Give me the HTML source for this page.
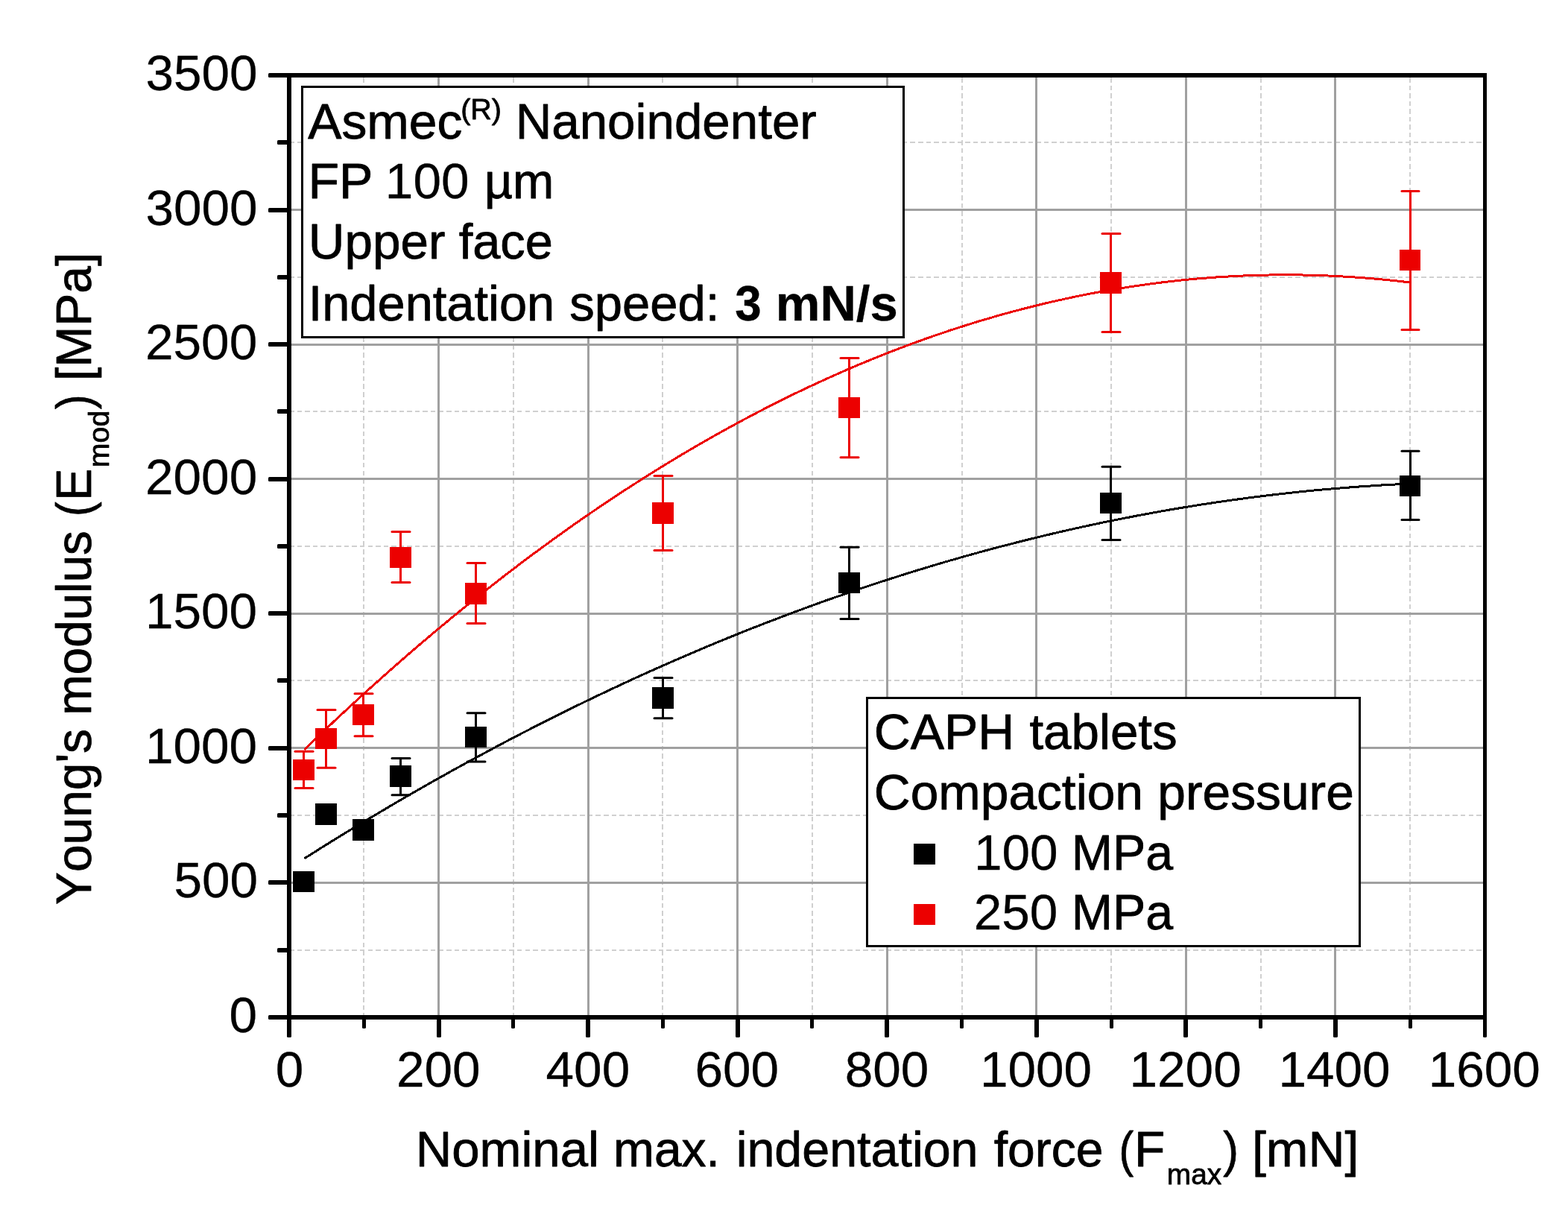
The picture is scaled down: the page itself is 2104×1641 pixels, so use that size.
<!DOCTYPE html>
<html lang="en"><head><meta charset="utf-8"><title>Young's modulus vs. nominal max. indentation force</title>
<style>
html,body{margin:0;padding:0;background:#fff;}
body{width:2104px;height:1641px;overflow:hidden;}
svg{display:block;}
</style></head>
<body>
<svg width="2104" height="1641" viewBox="0 0 2104 1641" font-family='"Liberation Sans", sans-serif'>
<rect x="0" y="0" width="2104" height="1641" fill="#ffffff"/>
<g fill="none" shape-rendering="crispEdges">
<line x1="488" y1="104" x2="488" y2="1362" stroke="#d0d0d0" stroke-width="2" stroke-dasharray="6.5 4.05"/>
<line x1="689" y1="104" x2="689" y2="1362" stroke="#d0d0d0" stroke-width="2" stroke-dasharray="6.5 4.05"/>
<line x1="889" y1="104" x2="889" y2="1362" stroke="#d0d0d0" stroke-width="2" stroke-dasharray="6.5 4.05"/>
<line x1="1090" y1="104" x2="1090" y2="1362" stroke="#d0d0d0" stroke-width="2" stroke-dasharray="6.5 4.05"/>
<line x1="1291" y1="104" x2="1291" y2="1362" stroke="#d0d0d0" stroke-width="2" stroke-dasharray="6.5 4.05"/>
<line x1="1491" y1="104" x2="1491" y2="1362" stroke="#d0d0d0" stroke-width="2" stroke-dasharray="6.5 4.05"/>
<line x1="1692" y1="104" x2="1692" y2="1362" stroke="#d0d0d0" stroke-width="2" stroke-dasharray="6.5 4.05"/>
<line x1="1892" y1="104" x2="1892" y2="1362" stroke="#d0d0d0" stroke-width="2" stroke-dasharray="6.5 4.05"/>
<line x1="391" y1="1275" x2="1990" y2="1275" stroke="#d0d0d0" stroke-width="2" stroke-dasharray="6.5 4.05" stroke-dashoffset="3"/>
<line x1="391" y1="1094" x2="1990" y2="1094" stroke="#d0d0d0" stroke-width="2" stroke-dasharray="6.5 4.05" stroke-dashoffset="3"/>
<line x1="391" y1="913" x2="1990" y2="913" stroke="#d0d0d0" stroke-width="2" stroke-dasharray="6.5 4.05" stroke-dashoffset="3"/>
<line x1="391" y1="733" x2="1990" y2="733" stroke="#d0d0d0" stroke-width="2" stroke-dasharray="6.5 4.05" stroke-dashoffset="3"/>
<line x1="391" y1="552" x2="1990" y2="552" stroke="#d0d0d0" stroke-width="2" stroke-dasharray="6.5 4.05" stroke-dashoffset="3"/>
<line x1="391" y1="372" x2="1990" y2="372" stroke="#d0d0d0" stroke-width="2" stroke-dasharray="6.5 4.05" stroke-dashoffset="3"/>
<line x1="391" y1="191" x2="1990" y2="191" stroke="#d0d0d0" stroke-width="2" stroke-dasharray="6.5 4.05" stroke-dashoffset="3"/>
<line x1="588.5" y1="104" x2="588.5" y2="1362" stroke="#a0a0a0" stroke-width="3"/>
<line x1="789.5" y1="104" x2="789.5" y2="1362" stroke="#a0a0a0" stroke-width="3"/>
<line x1="989.5" y1="104" x2="989.5" y2="1362" stroke="#a0a0a0" stroke-width="3"/>
<line x1="1190.5" y1="104" x2="1190.5" y2="1362" stroke="#a0a0a0" stroke-width="3"/>
<line x1="1390.5" y1="104" x2="1390.5" y2="1362" stroke="#a0a0a0" stroke-width="3"/>
<line x1="1591.5" y1="104" x2="1591.5" y2="1362" stroke="#a0a0a0" stroke-width="3"/>
<line x1="1791.5" y1="104" x2="1791.5" y2="1362" stroke="#a0a0a0" stroke-width="3"/>
<line x1="391" y1="1184.5" x2="1990" y2="1184.5" stroke="#a0a0a0" stroke-width="3"/>
<line x1="391" y1="1003.5" x2="1990" y2="1003.5" stroke="#a0a0a0" stroke-width="3"/>
<line x1="391" y1="823.5" x2="1990" y2="823.5" stroke="#a0a0a0" stroke-width="3"/>
<line x1="391" y1="642.5" x2="1990" y2="642.5" stroke="#a0a0a0" stroke-width="3"/>
<line x1="391" y1="462.5" x2="1990" y2="462.5" stroke="#a0a0a0" stroke-width="3"/>
<line x1="391" y1="281.5" x2="1990" y2="281.5" stroke="#a0a0a0" stroke-width="3"/>
</g>
<polyline points="408.3,1152.0 418.3,1145.7 428.2,1139.4 438.2,1133.2 448.1,1127.0 458.1,1120.9 468.0,1114.8 478.0,1108.8 488.0,1102.8 497.9,1096.8 507.9,1090.9 517.8,1085.0 527.8,1079.1 537.7,1073.3 547.7,1067.5 557.6,1061.8 567.6,1056.1 577.6,1050.4 587.5,1044.8 597.5,1039.3 607.4,1033.7 617.4,1028.2 627.3,1022.8 637.3,1017.3 647.3,1012.0 657.2,1006.6 667.2,1001.3 677.1,996.0 687.1,990.8 697.0,985.6 707.0,980.5 716.9,975.4 726.9,970.3 736.9,965.3 746.8,960.3 756.8,955.4 766.7,950.4 776.7,945.6 786.6,940.7 796.6,936.0 806.6,931.2 816.5,926.5 826.5,921.8 836.4,917.2 846.4,912.6 856.3,908.0 866.3,903.5 876.2,899.0 886.2,894.6 896.2,890.2 906.1,885.8 916.1,881.5 926.0,877.3 936.0,873.0 945.9,868.8 955.9,864.6 965.9,860.5 975.8,856.4 985.8,852.4 995.7,848.4 1005.7,844.4 1015.6,840.5 1025.6,836.6 1035.6,832.8 1045.5,829.0 1055.5,825.2 1065.4,821.5 1075.4,817.8 1085.3,814.1 1095.3,810.5 1105.2,806.9 1115.2,803.4 1125.2,799.9 1135.1,796.5 1145.1,793.0 1155.0,789.7 1165.0,786.3 1174.9,783.0 1184.9,779.8 1194.9,776.6 1204.8,773.4 1214.8,770.2 1224.7,767.1 1234.7,764.1 1244.6,761.1 1254.6,758.1 1264.5,755.1 1274.5,752.2 1284.5,749.4 1294.4,746.5 1304.4,743.8 1314.3,741.0 1324.3,738.3 1334.2,735.6 1344.2,733.0 1354.2,730.4 1364.1,727.9 1374.1,725.4 1384.0,722.9 1394.0,720.5 1403.9,718.1 1413.9,715.7 1423.9,713.4 1433.8,711.1 1443.8,708.9 1453.7,706.7 1463.7,704.5 1473.6,702.4 1483.6,700.3 1493.5,698.3 1503.5,696.3 1513.5,694.4 1523.4,692.4 1533.4,690.6 1543.3,688.7 1553.3,686.9 1563.2,685.1 1573.2,683.4 1583.2,681.7 1593.1,680.1 1603.1,678.5 1613.0,676.9 1623.0,675.4 1632.9,673.9 1642.9,672.5 1652.8,671.0 1662.8,669.7 1672.8,668.3 1682.7,667.1 1692.7,665.8 1702.6,664.6 1712.6,663.4 1722.5,662.3 1732.5,661.2 1742.5,660.1 1752.4,659.1 1762.4,658.1 1772.3,657.2 1782.3,656.3 1792.2,655.5 1802.2,654.6 1812.1,653.9 1822.1,653.1 1832.1,652.4 1842.0,651.8 1852.0,651.1 1861.9,650.5 1871.9,650.0 1881.8,649.5 1891.8,649.0" fill="none" stroke="#000" stroke-width="3" shape-rendering="crispEdges"/>
<polyline points="408.3,1006.0 418.3,996.4 428.2,986.9 438.2,977.4 448.1,968.0 458.1,958.7 468.0,949.5 478.0,940.3 488.0,931.2 497.9,922.2 507.9,913.3 517.8,904.4 527.8,895.6 537.7,886.9 547.7,878.2 557.6,869.6 567.6,861.1 577.6,852.7 587.5,844.3 597.5,836.1 607.4,827.8 617.4,819.7 627.3,811.6 637.3,803.6 647.3,795.7 657.2,787.9 667.2,780.1 677.1,772.4 687.1,764.8 697.0,757.2 707.0,749.7 716.9,742.3 726.9,735.0 736.9,727.7 746.8,720.5 756.8,713.4 766.7,706.3 776.7,699.3 786.6,692.4 796.6,685.6 806.6,678.9 816.5,672.2 826.5,665.6 836.4,659.0 846.4,652.6 856.3,646.2 866.3,639.8 876.2,633.6 886.2,627.4 896.2,621.3 906.1,615.3 916.1,609.3 926.0,603.4 936.0,597.6 945.9,591.9 955.9,586.2 965.9,580.6 975.8,575.1 985.8,569.7 995.7,564.3 1005.7,559.0 1015.6,553.8 1025.6,548.6 1035.6,543.5 1045.5,538.5 1055.5,533.6 1065.4,528.7 1075.4,523.9 1085.3,519.2 1095.3,514.6 1105.2,510.0 1115.2,505.5 1125.2,501.1 1135.1,496.7 1145.1,492.4 1155.0,488.2 1165.0,484.1 1174.9,480.0 1184.9,476.1 1194.9,472.1 1204.8,468.3 1214.8,464.5 1224.7,460.8 1234.7,457.2 1244.6,453.6 1254.6,450.2 1264.5,446.8 1274.5,443.4 1284.5,440.2 1294.4,437.0 1304.4,433.9 1314.3,430.8 1324.3,427.9 1334.2,425.0 1344.2,422.1 1354.2,419.4 1364.1,416.7 1374.1,414.1 1384.0,411.6 1394.0,409.1 1403.9,406.7 1413.9,404.4 1423.9,402.2 1433.8,400.0 1443.8,397.9 1453.7,395.9 1463.7,393.9 1473.6,392.1 1483.6,390.3 1493.5,388.5 1503.5,386.9 1513.5,385.3 1523.4,383.8 1533.4,382.3 1543.3,381.0 1553.3,379.7 1563.2,378.4 1573.2,377.3 1583.2,376.2 1593.1,375.2 1603.1,374.3 1613.0,373.4 1623.0,372.7 1632.9,371.9 1642.9,371.3 1652.8,370.7 1662.8,370.2 1672.8,369.8 1682.7,369.5 1692.7,369.2 1702.6,369.0 1712.6,368.9 1722.5,368.8 1732.5,368.8 1742.5,368.9 1752.4,369.1 1762.4,369.3 1772.3,369.6 1782.3,370.0 1792.2,370.5 1802.2,371.0 1812.1,371.6 1822.1,372.3 1832.1,373.0 1842.0,373.8 1852.0,374.7 1861.9,375.7 1871.9,376.7 1881.8,377.8 1891.8,379.0" fill="none" stroke="#ec0000" stroke-width="3" shape-rendering="crispEdges"/>
<g fill="#000" stroke="#000" stroke-width="3">
<rect x="393" y="1169" width="29" height="28" stroke="none" shape-rendering="crispEdges"/>
<rect x="423" y="1078" width="29" height="29" stroke="none" shape-rendering="crispEdges"/>
<rect x="473" y="1099" width="29" height="29" stroke="none" shape-rendering="crispEdges"/>
<rect x="536" y="1017.6" width="3" height="49.1" stroke="none" shape-rendering="crispEdges"/>
<line x1="526" y1="1017.6" x2="550" y2="1017.6" stroke-linecap="round"/>
<line x1="526" y1="1066.7" x2="550" y2="1066.7" stroke-linecap="round"/>
<rect x="523" y="1027" width="29" height="29" stroke="none" shape-rendering="crispEdges"/>
<rect x="637" y="956.7" width="3" height="65.2" stroke="none" shape-rendering="crispEdges"/>
<line x1="627" y1="956.7" x2="651" y2="956.7" stroke-linecap="round"/>
<line x1="627" y1="1021.9" x2="651" y2="1021.9" stroke-linecap="round"/>
<rect x="624" y="975" width="29" height="28" stroke="none" shape-rendering="crispEdges"/>
<rect x="888" y="909.6" width="3" height="54.1" stroke="none" shape-rendering="crispEdges"/>
<line x1="878" y1="909.6" x2="902" y2="909.6" stroke-linecap="round"/>
<line x1="878" y1="963.7" x2="902" y2="963.7" stroke-linecap="round"/>
<rect x="875" y="922" width="29" height="29" stroke="none" shape-rendering="crispEdges"/>
<rect x="1138" y="734.3" width="3" height="96.3" stroke="none" shape-rendering="crispEdges"/>
<line x1="1128" y1="734.3" x2="1152" y2="734.3" stroke-linecap="round"/>
<line x1="1128" y1="830.6" x2="1152" y2="830.6" stroke-linecap="round"/>
<rect x="1125" y="768" width="29" height="28" stroke="none" shape-rendering="crispEdges"/>
<rect x="1489" y="626.2" width="3" height="98.2" stroke="none" shape-rendering="crispEdges"/>
<line x1="1479" y1="626.2" x2="1503" y2="626.2" stroke-linecap="round"/>
<line x1="1479" y1="724.4" x2="1503" y2="724.4" stroke-linecap="round"/>
<rect x="1476" y="661" width="29" height="28" stroke="none" shape-rendering="crispEdges"/>
<rect x="1891" y="605.3" width="3" height="92.2" stroke="none" shape-rendering="crispEdges"/>
<line x1="1881" y1="605.3" x2="1904" y2="605.3" stroke-linecap="round"/>
<line x1="1881" y1="697.5" x2="1904" y2="697.5" stroke-linecap="round"/>
<rect x="1878" y="638" width="28" height="28" stroke="none" shape-rendering="crispEdges"/>
</g>
<g fill="#ec0000" stroke="#ec0000" stroke-width="3">
<rect x="406" y="1008.2" width="3" height="49.4" stroke="none" shape-rendering="crispEdges"/>
<line x1="396" y1="1008.2" x2="420" y2="1008.2" stroke-linecap="round"/>
<line x1="396" y1="1057.6" x2="420" y2="1057.6" stroke-linecap="round"/>
<rect x="393" y="1019" width="29" height="28" stroke="none" shape-rendering="crispEdges"/>
<rect x="436" y="952.6" width="3" height="77.7" stroke="none" shape-rendering="crispEdges"/>
<line x1="426" y1="952.6" x2="450" y2="952.6" stroke-linecap="round"/>
<line x1="426" y1="1030.3" x2="450" y2="1030.3" stroke-linecap="round"/>
<rect x="423" y="977" width="29" height="28" stroke="none" shape-rendering="crispEdges"/>
<rect x="486" y="930.8" width="3" height="56.9" stroke="none" shape-rendering="crispEdges"/>
<line x1="476" y1="930.8" x2="500" y2="930.8" stroke-linecap="round"/>
<line x1="476" y1="987.7" x2="500" y2="987.7" stroke-linecap="round"/>
<rect x="473" y="945" width="29" height="28" stroke="none" shape-rendering="crispEdges"/>
<rect x="536" y="713.6" width="3" height="67.8" stroke="none" shape-rendering="crispEdges"/>
<line x1="526" y1="713.6" x2="550" y2="713.6" stroke-linecap="round"/>
<line x1="526" y1="781.4" x2="550" y2="781.4" stroke-linecap="round"/>
<rect x="523" y="734" width="29" height="28" stroke="none" shape-rendering="crispEdges"/>
<rect x="637" y="755.5" width="3" height="80.9" stroke="none" shape-rendering="crispEdges"/>
<line x1="627" y1="755.5" x2="651" y2="755.5" stroke-linecap="round"/>
<line x1="627" y1="836.4" x2="651" y2="836.4" stroke-linecap="round"/>
<rect x="624" y="782" width="29" height="29" stroke="none" shape-rendering="crispEdges"/>
<rect x="888" y="638.5" width="3" height="100.0" stroke="none" shape-rendering="crispEdges"/>
<line x1="878" y1="638.5" x2="902" y2="638.5" stroke-linecap="round"/>
<line x1="878" y1="738.5" x2="902" y2="738.5" stroke-linecap="round"/>
<rect x="875" y="674" width="29" height="29" stroke="none" shape-rendering="crispEdges"/>
<rect x="1138" y="480.5" width="3" height="133.2" stroke="none" shape-rendering="crispEdges"/>
<line x1="1128" y1="480.5" x2="1152" y2="480.5" stroke-linecap="round"/>
<line x1="1128" y1="613.7" x2="1152" y2="613.7" stroke-linecap="round"/>
<rect x="1125" y="533" width="29" height="28" stroke="none" shape-rendering="crispEdges"/>
<rect x="1489" y="313.5" width="3" height="132.1" stroke="none" shape-rendering="crispEdges"/>
<line x1="1479" y1="313.5" x2="1503" y2="313.5" stroke-linecap="round"/>
<line x1="1479" y1="445.6" x2="1503" y2="445.6" stroke-linecap="round"/>
<rect x="1476" y="365" width="29" height="29" stroke="none" shape-rendering="crispEdges"/>
<rect x="1891" y="256.4" width="3" height="186.0" stroke="none" shape-rendering="crispEdges"/>
<line x1="1881" y1="256.4" x2="1904" y2="256.4" stroke-linecap="round"/>
<line x1="1881" y1="442.4" x2="1904" y2="442.4" stroke-linecap="round"/>
<rect x="1878" y="335" width="28" height="28" stroke="none" shape-rendering="crispEdges"/>
</g>
<g stroke="#000" fill="none">
<g shape-rendering="crispEdges">
<line x1="385" y1="101" x2="1995" y2="101" stroke-width="6"/>
<line x1="385" y1="1365" x2="1995" y2="1365" stroke-width="6"/>
<line x1="388" y1="98" x2="388" y2="1368" stroke-width="6"/>
<line x1="1992.5" y1="98" x2="1992.5" y2="1368" stroke-width="5"/>
</g>
<g fill="#000" stroke="none">
<rect x="360" y="1362" width="28" height="6" rx="1.6"/>
<rect x="372" y="1272" width="16" height="6" rx="1.6"/>
<rect x="360" y="1181" width="28" height="6" rx="1.6"/>
<rect x="372" y="1091" width="16" height="6" rx="1.6"/>
<rect x="360" y="1001" width="28" height="6" rx="1.6"/>
<rect x="372" y="910" width="16" height="6" rx="1.6"/>
<rect x="360" y="820" width="28" height="6" rx="1.6"/>
<rect x="372" y="730" width="16" height="6" rx="1.6"/>
<rect x="360" y="640" width="28" height="6" rx="1.6"/>
<rect x="372" y="549" width="16" height="6" rx="1.6"/>
<rect x="360" y="459" width="28" height="6" rx="1.6"/>
<rect x="372" y="369" width="16" height="6" rx="1.6"/>
<rect x="360" y="279" width="28" height="6" rx="1.6"/>
<rect x="372" y="188" width="16" height="6" rx="1.6"/>
<rect x="360" y="98" width="28" height="6" rx="1.6"/>
<rect x="385" y="1365" width="6" height="27" rx="1.6"/>
<rect x="486" y="1365" width="5" height="15" rx="1.6"/>
<rect x="586" y="1365" width="6" height="27" rx="1.6"/>
<rect x="686" y="1365" width="5" height="15" rx="1.6"/>
<rect x="786" y="1365" width="6" height="27" rx="1.6"/>
<rect x="887" y="1365" width="5" height="15" rx="1.6"/>
<rect x="987" y="1365" width="6" height="27" rx="1.6"/>
<rect x="1087" y="1365" width="5" height="15" rx="1.6"/>
<rect x="1187" y="1365" width="6" height="27" rx="1.6"/>
<rect x="1288" y="1365" width="5" height="15" rx="1.6"/>
<rect x="1388" y="1365" width="6" height="27" rx="1.6"/>
<rect x="1489" y="1365" width="5" height="15" rx="1.6"/>
<rect x="1588" y="1365" width="6" height="27" rx="1.6"/>
<rect x="1689" y="1365" width="5" height="15" rx="1.6"/>
<rect x="1789" y="1365" width="6" height="27" rx="1.6"/>
<rect x="1890" y="1365" width="5" height="15" rx="1.6"/>
<rect x="1990" y="1365" width="5" height="27" rx="1.6"/>
</g>
</g>
<g fill="#fff" stroke="#000" stroke-width="3" shape-rendering="crispEdges">
<rect x="405.5" y="116.5" width="807" height="336"/>
<rect x="1163.5" y="936.5" width="661" height="333"/>
</g>
<rect x="1226" y="1132" width="29" height="28" fill="#000" shape-rendering="crispEdges"/>
<rect x="1226" y="1213" width="29" height="28" fill="#ec0000" shape-rendering="crispEdges"/>
<g fill="#000" stroke="#000" stroke-width="0.8" stroke-linejoin="round" font-kerning="none" style="font-kerning:none">
<text x="307.55" y="1384.90" font-size="67.5" stroke-width="0.3">0</text>
<text x="233.46" y="1204.36" font-size="67.5" stroke-width="0.3">500</text>
<text x="194.93" y="1023.81" font-size="67.5" stroke-width="0.3">1000</text>
<text x="194.93" y="843.27" font-size="67.5" stroke-width="0.3">1500</text>
<text x="195.04" y="662.73" font-size="67.5" stroke-width="0.3">2000</text>
<text x="195.04" y="482.19" font-size="67.5" stroke-width="0.3">2500</text>
<text x="195.45" y="301.64" font-size="67.5" stroke-width="0.3">3000</text>
<text x="195.45" y="121.10" font-size="67.5" stroke-width="0.3">3500</text>
<text x="369.63" y="1457.70" font-size="67.5" stroke-width="0.3">0</text>
<text x="532.01" y="1457.70" font-size="67.5" stroke-width="0.3">200</text>
<text x="732.58" y="1457.70" font-size="67.5" stroke-width="0.3">400</text>
<text x="932.44" y="1457.70" font-size="67.5" stroke-width="0.3">600</text>
<text x="1133.64" y="1457.70" font-size="67.5" stroke-width="0.3">800</text>
<text x="1314.93" y="1457.70" font-size="67.5" stroke-width="0.3">1000</text>
<text x="1515.53" y="1457.70" font-size="67.5" stroke-width="0.3">1200</text>
<text x="1715.43" y="1457.70" font-size="67.5" stroke-width="0.3">1400</text>
<text x="1916.73" y="1457.70" font-size="67.5" stroke-width="0.3">1600</text>
<text font-size="67"><tspan x="557.69" y="1565.30" textLength="246.30" lengthAdjust="spacingAndGlyphs">Nominal</tspan> <tspan x="823.02" y="1565.30" textLength="142.90" lengthAdjust="spacingAndGlyphs">max.</tspan> <tspan x="987.66" y="1565.30" textLength="324.85" lengthAdjust="spacingAndGlyphs">indentation</tspan> <tspan x="1333.77" y="1565.30" textLength="146.77" lengthAdjust="spacingAndGlyphs">force</tspan> <tspan x="1501.38" y="1565.30" textLength="19.63" lengthAdjust="spacingAndGlyphs">(</tspan><tspan x="1522.04" y="1565.30" textLength="41.37" lengthAdjust="spacingAndGlyphs">F</tspan><tspan x="1565.82" y="1588.60" font-size="39.5" textLength="73.29" lengthAdjust="spacingAndGlyphs">max</tspan><tspan x="1641.14" y="1565.30" textLength="20.72" lengthAdjust="spacingAndGlyphs">)</tspan> <tspan x="1679.95" y="1565.30" textLength="143.49" lengthAdjust="spacingAndGlyphs">[mN]</tspan></text>
<text font-size="67"><tspan x="413.27" y="186.20" textLength="207.12" lengthAdjust="spacingAndGlyphs">Asmec</tspan><tspan x="618.15" y="160.00" font-size="39.5" textLength="54.91" lengthAdjust="spacingAndGlyphs">(R)</tspan> <tspan x="691.68" y="186.20" textLength="404.04" lengthAdjust="spacingAndGlyphs">Nanoindenter</tspan></text>
<text font-size="67"><tspan x="413.42" y="266.00" textLength="86.97" lengthAdjust="spacingAndGlyphs">FP</tspan> <tspan x="516.87" y="266.00" font-size="67.5" stroke-width="0.3">100</tspan> <tspan x="649.76" y="266.00" textLength="93.51" lengthAdjust="spacingAndGlyphs">µm</tspan></text>
<text font-size="67"><tspan x="413.80" y="346.60" textLength="183.52" lengthAdjust="spacingAndGlyphs">Upper</tspan> <tspan x="615.65" y="346.60" textLength="126.21" lengthAdjust="spacingAndGlyphs">face</tspan></text>
<text font-size="67"><tspan x="413.63" y="430.00" textLength="330.60" lengthAdjust="spacingAndGlyphs">Indentation</tspan> <tspan x="764.24" y="430.00" textLength="201.18" lengthAdjust="spacingAndGlyphs">speed:</tspan> <tspan x="986.29" y="430.00" font-weight="bold" stroke-width="0.3" textLength="35.47" lengthAdjust="spacingAndGlyphs">3</tspan> <tspan x="1040.83" y="430.00" font-weight="bold" stroke-width="0.3" textLength="163.97" lengthAdjust="spacingAndGlyphs">mN/s</tspan></text>
<text font-size="67"><tspan x="1172.86" y="1004.80" textLength="188.48" lengthAdjust="spacingAndGlyphs">CAPH</tspan> <tspan x="1381.38" y="1004.80" textLength="198.35" lengthAdjust="spacingAndGlyphs">tablets</tspan></text>
<text font-size="67"><tspan x="1172.86" y="1086.00" textLength="361.13" lengthAdjust="spacingAndGlyphs">Compaction</tspan> <tspan x="1553.34" y="1086.00" textLength="263.47" lengthAdjust="spacingAndGlyphs">pressure</tspan></text>
<text font-size="67"><tspan x="1306.97" y="1167.00" font-size="67.5" stroke-width="0.3">100</tspan> <tspan x="1437.76" y="1167.00" textLength="136.34" lengthAdjust="spacingAndGlyphs">MPa</tspan></text>
<text font-size="67"><tspan x="1306.71" y="1247.30" font-size="67.5" stroke-width="0.3">250</tspan> <tspan x="1437.76" y="1247.30" textLength="136.34" lengthAdjust="spacingAndGlyphs">MPa</tspan></text>
<g transform="rotate(-90)">
<text font-size="67"><tspan x="-1214.05" y="121.60" textLength="236.03" lengthAdjust="spacingAndGlyphs">Young&#39;s</tspan> <tspan x="-959.85" y="121.60" textLength="247.72" lengthAdjust="spacingAndGlyphs">modulus</tspan> <tspan x="-693.12" y="121.60" textLength="19.63" lengthAdjust="spacingAndGlyphs">(</tspan><tspan x="-671.80" y="121.60" textLength="43.07" lengthAdjust="spacingAndGlyphs">E</tspan><tspan x="-627.26" y="145.70" font-size="39.5" textLength="76.50" lengthAdjust="spacingAndGlyphs">mod</tspan><tspan x="-549.01" y="121.60" textLength="19.63" lengthAdjust="spacingAndGlyphs">)</tspan> <tspan x="-511.00" y="121.60" textLength="172.31" lengthAdjust="spacingAndGlyphs">[MPa]</tspan></text>
</g>
</g>
</svg>
</body></html>
